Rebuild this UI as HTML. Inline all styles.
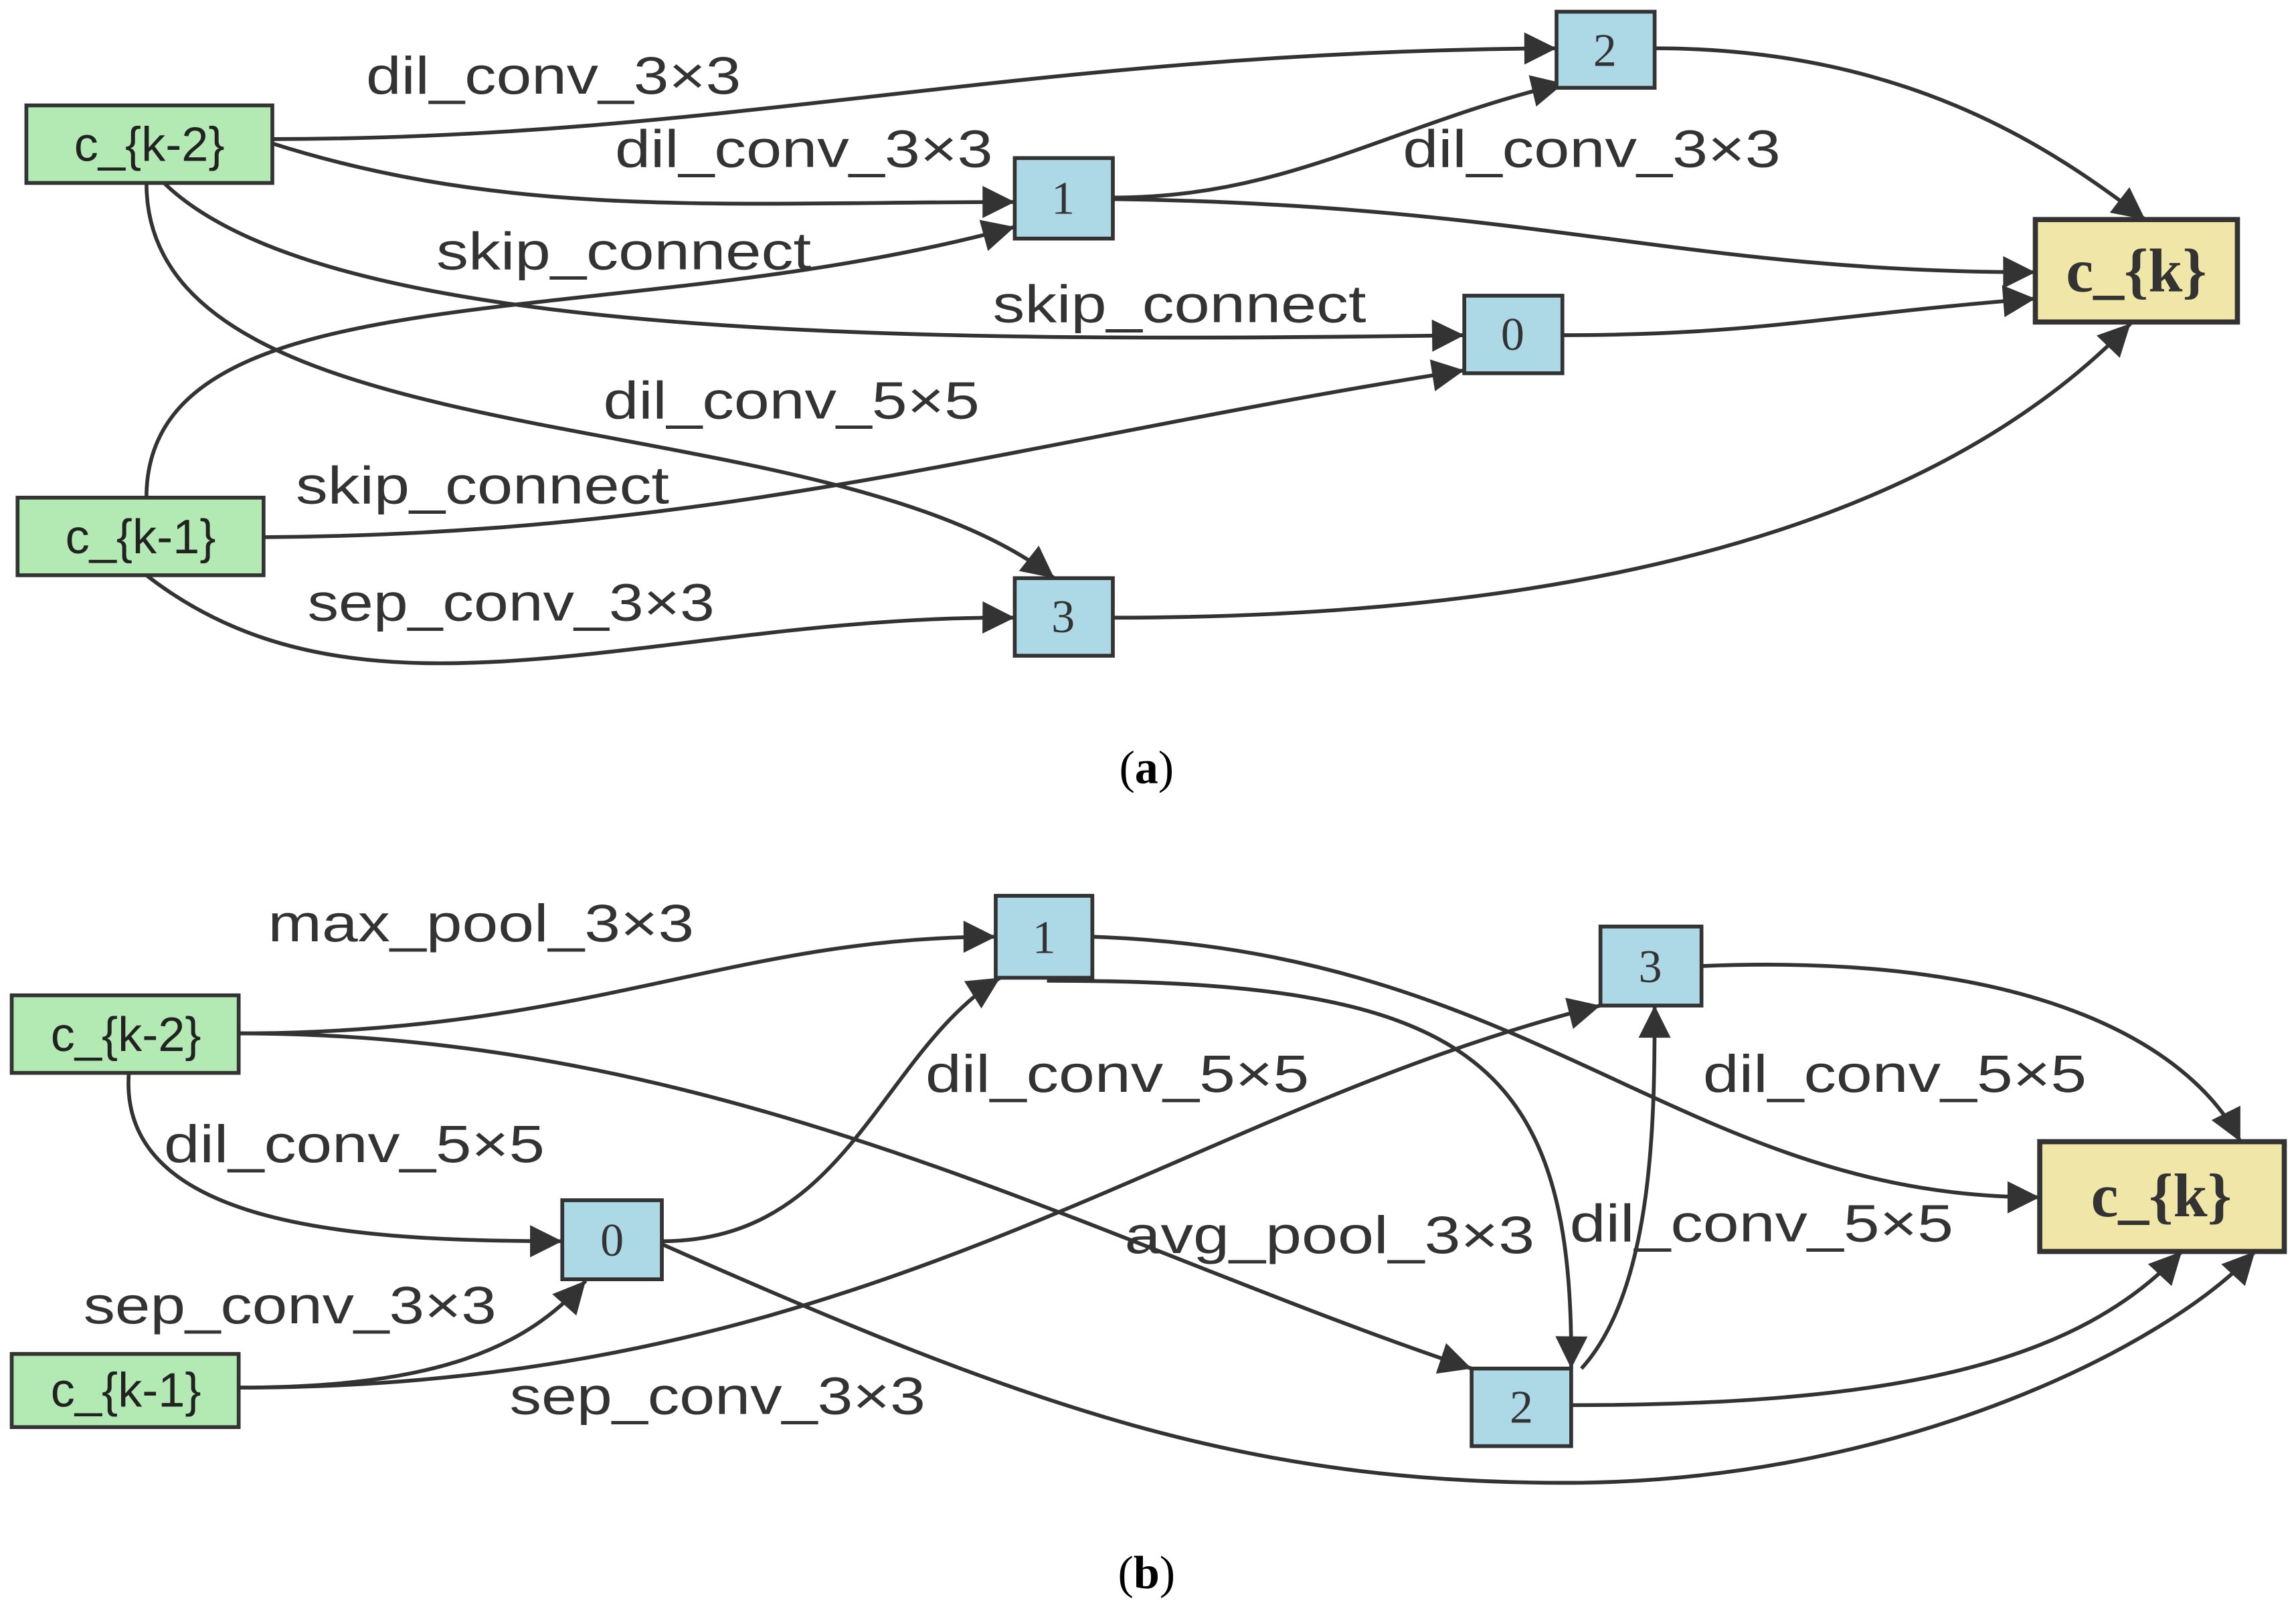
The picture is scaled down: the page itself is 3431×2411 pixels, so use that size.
<!DOCTYPE html>
<html><head><meta charset="utf-8"><style>html,body{margin:0;padding:0;background:#fff}svg{display:block}</style></head><body>
<svg width="3431" height="2411" viewBox="0 0 1568 1102" preserveAspectRatio="none" xmlns="http://www.w3.org/2000/svg">
<defs><marker id="a" viewBox="0 0 10 10" refX="10" refY="5" markerWidth="26" markerHeight="22" markerUnits="userSpaceOnUse" orient="auto"><path d="M0,0 L10,5 L0,10 z" fill="#333"/></marker></defs>
<g fill="none" stroke="#333" stroke-width="2.6" marker-end="url(#a)">
<path d="M186,95 C500,95 700,35 1063,33"/>
<path d="M186,98 C350,150 500,138 693,138"/>
<path d="M112,125 C220,230 600,235 1000,229"/>
<path d="M100,125 C100,320 560,270 720,395"/>
<path d="M100,340 C100,180 420,230 693,155"/>
<path d="M180,367 C500,365 700,300 1000,253"/>
<path d="M100,393 C250,510 450,420 693,422"/>
<path d="M760,135 C880,135 950,85 1068,57"/>
<path d="M760,136 C1050,140 1150,186 1390,186"/>
<path d="M1130,33 C1300,33 1400,100 1465,150"/>
<path d="M1067,229 C1200,229 1250,215 1390,204"/>
<path d="M760,422 C1150,422 1350,330 1455,221"/>
<path d="M163,706 C400,706 500,640 680,640"/>
<path d="M88,733 C80,840 250,848 384,848"/>
<path d="M163,706 C500,706 750,850 1005,935"/>
<path d="M163,948 C300,948 360,920 400,875"/>
<path d="M163,948 C600,948 800,760 1093,687"/>
<path d="M452,848 C580,848 600,720 683,668"/>
<path d="M715,670 C1000,670 1075,720 1073,935"/>
<path d="M746,640 C1050,650 1150,818 1393,818"/>
<path d="M1080,935 C1130,880 1130,760 1130,687"/>
<path d="M1162,660 C1400,650 1500,720 1530,780"/>
<path d="M1073,960 C1300,960 1420,930 1490,855"/>
<path d="M452,850 C700,960 850,1015 1080,1013 C1300,1010 1480,920 1540,855"/>
</g>
<g stroke="#333" stroke-width="2.6">
<rect x="18" y="72" width="168" height="53" fill="#b3eab3"/>
<rect x="12" y="340" width="168" height="53" fill="#b3eab3"/>
<rect x="693" y="108" width="67" height="55" fill="#add8e6"/>
<rect x="1063" y="8" width="67" height="52" fill="#add8e6"/>
<rect x="1000" y="202" width="67" height="53" fill="#add8e6"/>
<rect x="693" y="395" width="67" height="53" fill="#add8e6"/>
<rect x="1390" y="150" width="138" height="70" fill="#efe6a8" stroke-width="3.5"/>
<rect x="8" y="680" width="155" height="53" fill="#b3eab3"/>
<rect x="8" y="925" width="155" height="50" fill="#b3eab3"/>
<rect x="680" y="612" width="66" height="56" fill="#add8e6"/>
<rect x="1093" y="633" width="69" height="54" fill="#add8e6"/>
<rect x="384" y="820" width="68" height="54" fill="#add8e6"/>
<rect x="1005" y="935" width="68" height="53" fill="#add8e6"/>
<rect x="1393" y="780" width="167" height="75" fill="#efe6a8" stroke-width="3.5"/>
</g>
<g font-family="Liberation Sans, sans-serif" font-size="33" fill="#222" text-anchor="middle">
<text x="102" y="110">c_{k-2}</text>
<text x="96" y="378">c_{k-1}</text>
<text x="86" y="718">c_{k-2}</text>
<text x="86" y="961">c_{k-1}</text>
</g>
<g font-family="Liberation Serif, serif" font-size="32" fill="#333" text-anchor="middle">
<text x="726" y="146">1</text>
<text x="1096" y="45">2</text>
<text x="1033" y="239">0</text>
<text x="726" y="432">3</text>
<text x="713" y="651">1</text>
<text x="1127" y="671">3</text>
<text x="418" y="858">0</text>
<text x="1039" y="972">2</text>
<text x="1459" y="199" font-size="42" font-weight="bold">c_{k}</text>
<text x="1476" y="831" font-size="42" font-weight="bold">c_{k}</text>
</g>
<g font-family="Liberation Sans, sans-serif" font-size="36" fill="#333" lengthAdjust="spacingAndGlyphs">
<text x="250" y="64" textLength="256" lengthAdjust="spacingAndGlyphs">dil_conv_3×3</text>
<text x="420" y="114" textLength="258" lengthAdjust="spacingAndGlyphs">dil_conv_3×3</text>
<text x="958" y="114" textLength="258" lengthAdjust="spacingAndGlyphs">dil_conv_3×3</text>
<text x="298" y="184" textLength="256" lengthAdjust="spacingAndGlyphs">skip_connect</text>
<text x="678" y="220" textLength="255" lengthAdjust="spacingAndGlyphs">skip_connect</text>
<text x="412" y="286" textLength="257" lengthAdjust="spacingAndGlyphs">dil_conv_5×5</text>
<text x="202" y="344" textLength="255" lengthAdjust="spacingAndGlyphs">skip_connect</text>
<text x="210" y="424" textLength="278" lengthAdjust="spacingAndGlyphs">sep_conv_3×3</text>
<text x="183" y="643" textLength="291" lengthAdjust="spacingAndGlyphs">max_pool_3×3</text>
<text x="632" y="746" textLength="262" lengthAdjust="spacingAndGlyphs">dil_conv_5×5</text>
<text x="1163" y="746" textLength="262" lengthAdjust="spacingAndGlyphs">dil_conv_5×5</text>
<text x="112" y="794" textLength="260" lengthAdjust="spacingAndGlyphs">dil_conv_5×5</text>
<text x="768" y="856" textLength="280" lengthAdjust="spacingAndGlyphs">avg_pool_3×3</text>
<text x="1072" y="848" textLength="262" lengthAdjust="spacingAndGlyphs">dil_conv_5×5</text>
<text x="57" y="904" textLength="282" lengthAdjust="spacingAndGlyphs">sep_conv_3×3</text>
<text x="348" y="966" textLength="284" lengthAdjust="spacingAndGlyphs">sep_conv_3×3</text>
</g>
<g font-family="Liberation Serif, serif" font-size="32" fill="#000" text-anchor="middle">
<text x="783" y="535">(<tspan font-weight="bold">a</tspan>)</text>
<text x="783" y="1085">(<tspan font-weight="bold">b</tspan>)</text>
</g>
</svg>
</body></html>
